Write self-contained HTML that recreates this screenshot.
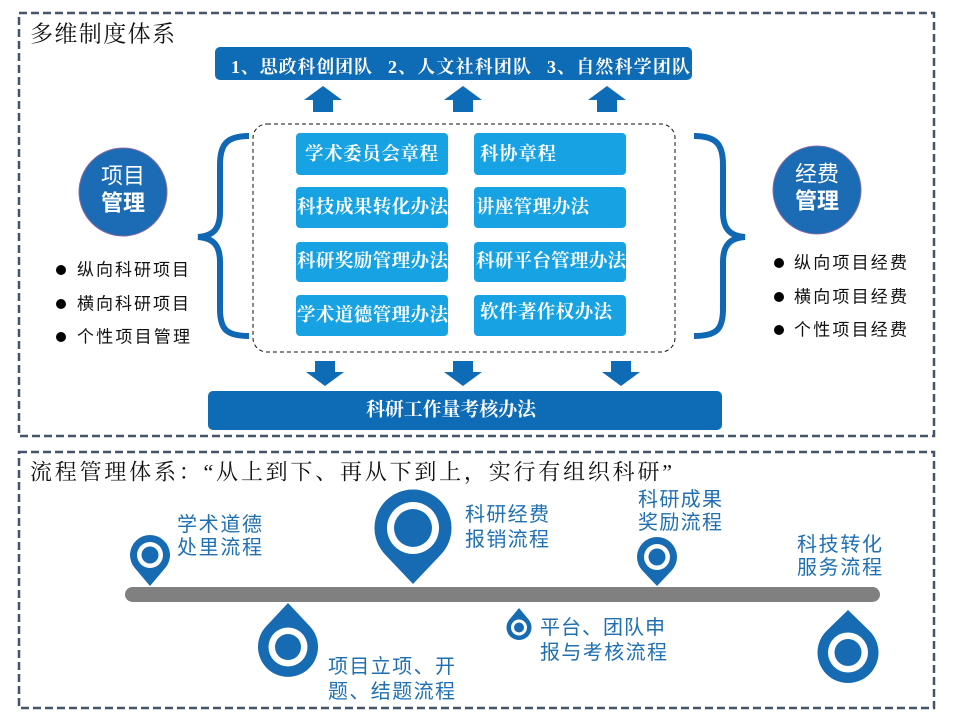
<!DOCTYPE html>
<html>
<head>
<meta charset="utf-8">
<style>
html,body{margin:0;padding:0;background:#fff;}
body{width:960px;height:720px;overflow:hidden;}
svg{display:block;}
.serif{font-family:"Liberation Serif","Noto Serif CJK SC","Noto Sans CJK SC",serif;}
.sans{font-family:"Liberation Sans","Noto Sans CJK SC",sans-serif;}
</style>
</head>
<body>
<svg width="960" height="720" viewBox="0 0 960 720" xmlns="http://www.w3.org/2000/svg">
  <!-- outer dashed frames -->
  <rect x="19" y="13" width="915" height="423" fill="none" stroke="#44546a" stroke-width="2.5" stroke-dasharray="8,4"/>
  <rect x="19" y="452" width="915" height="256" fill="none" stroke="#44546a" stroke-width="2.5" stroke-dasharray="8,4"/>

  <!-- section 1 title -->
  <text class="serif" x="30" y="34" font-size="23" fill="#111" dominant-baseline="central" textLength="145">多维制度体系</text>

  <!-- top bar -->
  <rect x="215" y="47" width="477" height="33" rx="5" fill="#0e6bb6"/>
  <text class="serif" x="231" y="67" font-size="18" font-weight="bold" fill="#fff" dominant-baseline="central" textLength="141">1、思政科创团队</text>
  <text class="serif" x="388" y="67" font-size="18" font-weight="bold" fill="#fff" dominant-baseline="central" textLength="143">2、人文社科团队</text>
  <text class="serif" x="547" y="67" font-size="18" font-weight="bold" fill="#fff" dominant-baseline="central" textLength="143">3、自然科学团队</text>

  <!-- up arrows -->
  <g fill="#0e6bb6">
    <polygon points="304,100 342,100 323,86"/><rect x="313" y="99" width="20" height="13"/>
    <polygon points="444,100 482,100 463,86"/><rect x="453" y="99" width="20" height="13"/>
    <polygon points="588,100 626,100 607,86"/><rect x="597" y="99" width="20" height="13"/>
  </g>

  <!-- inner dashed box -->
  <rect x="253" y="124" width="422" height="228" rx="14" fill="none" stroke="#111" stroke-width="1" stroke-dasharray="4,3"/>

  <!-- light blue boxes -->
  <g fill="#17a3e3">
    <rect x="296" y="133" width="152" height="42" rx="4"/>
    <rect x="474" y="133" width="152" height="42" rx="4"/>
    <rect x="296" y="187" width="152" height="41" rx="4"/>
    <rect x="474" y="187" width="152" height="41" rx="4"/>
    <rect x="296" y="242" width="152" height="40" rx="4"/>
    <rect x="474" y="242" width="152" height="40" rx="4"/>
    <rect x="296" y="295" width="152" height="41" rx="4"/>
    <rect x="474" y="295" width="152" height="41" rx="4"/>
  </g>
  <g class="serif" font-size="18.5" font-weight="bold" fill="#fff">
    <text x="305" y="155" dominant-baseline="central" textLength="133">学术委员会章程</text>
    <text x="297" y="208" dominant-baseline="central" textLength="151">科技成果转化办法</text>
    <text x="297" y="262" dominant-baseline="central" textLength="151">科研奖励管理办法</text>
    <text x="297" y="316" dominant-baseline="central" textLength="151">学术道德管理办法</text>
    <text x="480" y="155" dominant-baseline="central" textLength="76">科协章程</text>
    <text x="476" y="208" dominant-baseline="central" textLength="113">讲座管理办法</text>
    <text x="476" y="262" dominant-baseline="central" textLength="150">科研平台管理办法</text>
    <text x="480" y="313" dominant-baseline="central" textLength="132">软件著作权办法</text>
  </g>

  <!-- braces -->
  <path d="M249,136 C226,136 220,145 220,165 L220,212 C220,229 213,236 198,237 C213,238 220,245 220,262 L220,309 C220,329 226,336 249,336" fill="none" stroke="#1068b5" stroke-width="6"/>
  <path d="M694,136 C717,136 723,145 723,165 L723,212 C723,229 730,236 745,237 C730,238 723,245 723,262 L723,309 C723,329 717,336 694,336" fill="none" stroke="#1068b5" stroke-width="6"/>

  <!-- circles -->
  <circle cx="123" cy="192" r="44" fill="#1b6cb4" stroke="#8b6aa3" stroke-width="1"/>
  <text class="sans" x="123" y="176" font-size="22" fill="#fff" text-anchor="middle" dominant-baseline="central">项目</text>
  <text class="sans" x="123" y="203" font-size="22" font-weight="bold" fill="#fff" text-anchor="middle" dominant-baseline="central">管理</text>
  <circle cx="817" cy="190" r="44" fill="#1b6cb4" stroke="#8b6aa3" stroke-width="1"/>
  <text class="sans" x="817" y="174" font-size="22" fill="#fff" text-anchor="middle" dominant-baseline="central">经费</text>
  <text class="sans" x="817" y="201" font-size="22" font-weight="bold" fill="#fff" text-anchor="middle" dominant-baseline="central">管理</text>

  <!-- bullets left -->
  <g fill="#000">
    <circle cx="61" cy="270" r="5"/><circle cx="61" cy="304" r="5"/><circle cx="61" cy="337" r="5"/>
    <circle cx="779" cy="263" r="5"/><circle cx="779" cy="297" r="5"/><circle cx="779" cy="330" r="5"/>
  </g>
  <g class="sans" font-size="17" fill="#111">
    <text x="77" y="270" dominant-baseline="central" textLength="112">纵向科研项目</text>
    <text x="77" y="304" dominant-baseline="central" textLength="112">横向科研项目</text>
    <text x="77" y="337" dominant-baseline="central" textLength="113">个性项目管理</text>
    <text x="794" y="263" dominant-baseline="central" textLength="113">纵向项目经费</text>
    <text x="794" y="297" dominant-baseline="central" textLength="113">横向项目经费</text>
    <text x="794" y="330" dominant-baseline="central" textLength="113">个性项目经费</text>
  </g>

  <!-- down arrows -->
  <g fill="#0e6bb6">
    <rect x="315" y="361" width="20" height="12"/><polygon points="306,372 344,372 325,386"/>
    <rect x="453" y="361" width="20" height="12"/><polygon points="444,372 482,372 463,386"/>
    <rect x="611" y="361" width="20" height="12"/><polygon points="602,372 640,372 621,386"/>
  </g>

  <!-- bottom bar -->
  <rect x="208" y="391" width="514" height="39" rx="5" fill="#0e6bb6"/>
  <text class="serif" x="366" y="410" font-size="19" font-weight="bold" fill="#fff" dominant-baseline="central" textLength="170">科研工作量考核办法</text>

  <!-- section 2 title -->
  <text class="serif" x="30" y="472" font-size="22" fill="#111" dominant-baseline="central" textLength="642">流程管理体系：“从上到下、再从下到上，实行有组织科研”</text>

  <!-- timeline bar -->
  <rect x="125" y="587" width="755" height="15" rx="7.5" fill="#808080"/>

  <!-- pins above -->
  <g fill="#166bb3">
    <path d="M150,586 L134.7,567.9 A20,20 0 1,1 165.3,567.9 Z"/>
    <path d="M413,584 L385.05,554.5 A38.5,38.5 0 1,1 440.95,554.5 Z"/>
    <path d="M657,586 L642.5,570.8 A20,20 0 1,1 671.5,570.8 Z"/>
    <!-- drops below -->
    <path d="M288,603 L310,626.5 A30,30 0 1,1 266,626.5 Z"/>
    <path d="M519,608 L528.6,619.5 A12.5,12.5 0 1,1 509.4,619.5 Z"/>
    <path d="M848,610 L869.2,630.6 A30.5,30.5 0 1,1 826.8,630.6 Z"/>
  </g>
  <g fill="#fff">
    <circle cx="150" cy="555" r="13"/>
    <circle cx="413" cy="528" r="26"/>
    <circle cx="657" cy="557" r="13"/>
    <circle cx="288" cy="647" r="19.5"/>
    <circle cx="519" cy="627.5" r="8"/>
    <circle cx="848" cy="652.5" r="20"/>
  </g>
  <g fill="#166bb3">
    <circle cx="150" cy="555" r="8.5"/>
    <circle cx="413" cy="528" r="19"/>
    <circle cx="657" cy="557" r="8.5"/>
    <circle cx="288" cy="647" r="13"/>
    <circle cx="519" cy="627.5" r="5"/>
    <circle cx="848" cy="652.5" r="13.5"/>
  </g>

  <!-- pin labels -->
  <g class="sans" font-size="20" fill="#1f6fb2">
    <text x="177" y="525" dominant-baseline="central" textLength="85">学术道德</text>
    <text x="177" y="548" dominant-baseline="central" textLength="85">处里流程</text>
    <text x="465" y="515" dominant-baseline="central" textLength="84">科研经费</text>
    <text x="465" y="540" dominant-baseline="central" textLength="84">报销流程</text>
    <text x="638" y="500" dominant-baseline="central" textLength="84">科研成果</text>
    <text x="638" y="523" dominant-baseline="central" textLength="84">奖励流程</text>
    <text x="797" y="545" dominant-baseline="central" textLength="85">科技转化</text>
    <text x="797" y="568" dominant-baseline="central" textLength="85">服务流程</text>
    <text x="328" y="667" dominant-baseline="central" textLength="127">项目立项、开</text>
    <text x="328" y="692" dominant-baseline="central" textLength="127">题、结题流程</text>
    <text x="540" y="628" dominant-baseline="central" textLength="125">平台、团队申</text>
    <text x="540" y="653" dominant-baseline="central" textLength="127">报与考核流程</text>
  </g>
</svg>
</body>
</html>
